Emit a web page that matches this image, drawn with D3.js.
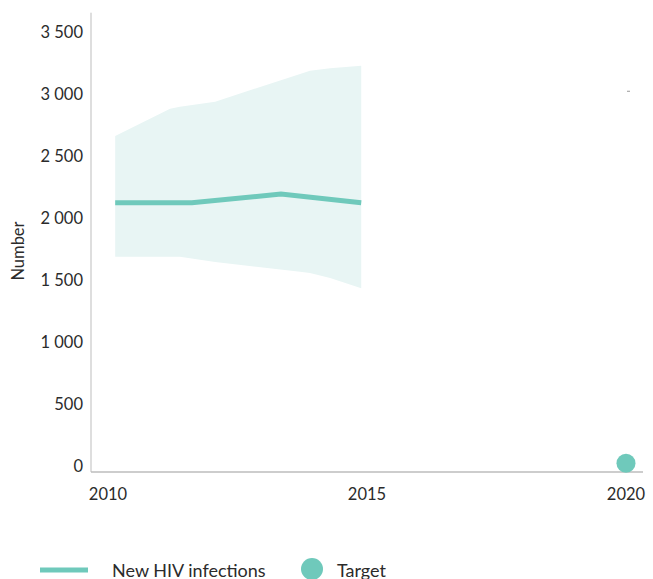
<!DOCTYPE html>
<html><head><meta charset="utf-8">
<script src="https://cdn.jsdelivr.net/npm/d3@7"></script>
<style>body{margin:0;background:#fff}svg{display:block}text{font-family:Lato,"Noto Sans",sans-serif;fill:#2b2b2b;font-weight:400}</style>
</head><body><svg id="c" width="653" height="579"></svg>
<script>
const bandYears = [2010.10, 2011.16, 2011.35, 2012.03, 2013.67, 2013.86, 2014.25, 2014.85];
const upperVals = [2665, 2884, 2900, 2941, 3164, 3191, 3210, 3231];
const lowerVals = [1692, 1692, 1692, 1650, 1571, 1560, 1520, 1437];
const lineYears = [2010.10, 2011.58, 2013.30, 2014.85];
const lineVals = [2127, 2127, 2197, 2127];
const targetYear = 2020;
const targetVal = 28;
const markYear = 2020;
const markVal = 3025;
const yTicks = [0, 500, 1000, 1500, 2000, 2500, 3000, 3500];
const xTicks = [2010, 2015, 2020];
const yTitle = "Number";
const legendLine = "New HIV infections";
const legendDot = "Target";

const teal = "#6fc9bb", bandCol = "#e8f5f4", axisCol = "#bdbdbd";
const svg = d3.select("#c");
const x = d3.scaleLinear().domain([2010, 2020]).range([110, 628]);
const y = d3.scaleLinear().domain([0, 3500]).range([466.7, 32.3]);
const fmt = d3.formatLocale({decimal: ".", thousands: " ", grouping: [3], currency: ["", ""]}).format(",");

// band
const band = bandYears.map((d, i) => ({x: d, lo: lowerVals[i], hi: upperVals[i]}));
svg.append("path").datum(band)
  .attr("d", d3.area().x(d => x(d.x)).y0(d => y(d.lo)).y1(d => y(d.hi)))
  .attr("fill", bandCol);

// axes lines
svg.append("line").attr("x1", 91).attr("x2", 91).attr("y1", y(3658)).attr("y2", y(-43))
  .attr("stroke", axisCol).attr("stroke-width", 1);
svg.append("line").attr("x1", 91).attr("x2", 643).attr("y1", y(-43)).attr("y2", y(-43))
  .attr("stroke", axisCol).attr("stroke-width", 1.5);

// y labels
svg.selectAll(".yt").data(yTicks).enter().append("text")
  .attr("x", 83).attr("y", d => y(d)).attr("dy", "0.35em").attr("text-anchor", "end")
  .attr("font-size", 16.5).text(d => fmt(d));

// x labels
svg.selectAll(".xt").data(xTicks).enter().append("text")
  .attr("x", d => x(d) - 2).attr("y", 494).attr("dy", "0.35em").attr("text-anchor", "middle")
  .attr("font-size", 16.5).text(d => d);

// y title
svg.append("text").attr("transform", "translate(18,251) rotate(-90)")
  .attr("text-anchor", "middle").attr("dy", "0.35em").attr("font-size", 16.5).text(yTitle);

// line
const lineData = lineYears.map((d, i) => ({x: d, v: lineVals[i]}));
svg.append("path").datum(lineData)
  .attr("d", d3.line().x(d => x(d.x)).y(d => y(d.v)))
  .attr("fill", "none").attr("stroke", teal).attr("stroke-width", 5);

// target
svg.append("circle").attr("cx", x(targetYear) - 2).attr("cy", y(targetVal)).attr("r", 9.5).attr("fill", teal);

// small mark
svg.append("line").attr("x1", x(markYear) - 1).attr("x2", x(markYear) + 2)
  .attr("y1", y(markVal)).attr("y2", y(markVal)).attr("stroke", "#999").attr("stroke-width", 1);

// legend
svg.append("line").attr("x1", 40).attr("x2", 88).attr("y1", 570).attr("y2", 570)
  .attr("stroke", teal).attr("stroke-width", 5);
svg.append("text").attr("x", 112).attr("y", 577).attr("font-size", 18).text(legendLine);
svg.append("circle").attr("cx", 312).attr("cy", 569).attr("r", 11).attr("fill", teal);
svg.append("text").attr("x", 337).attr("y", 577).attr("font-size", 18).text(legendDot);
</script></body></html>
